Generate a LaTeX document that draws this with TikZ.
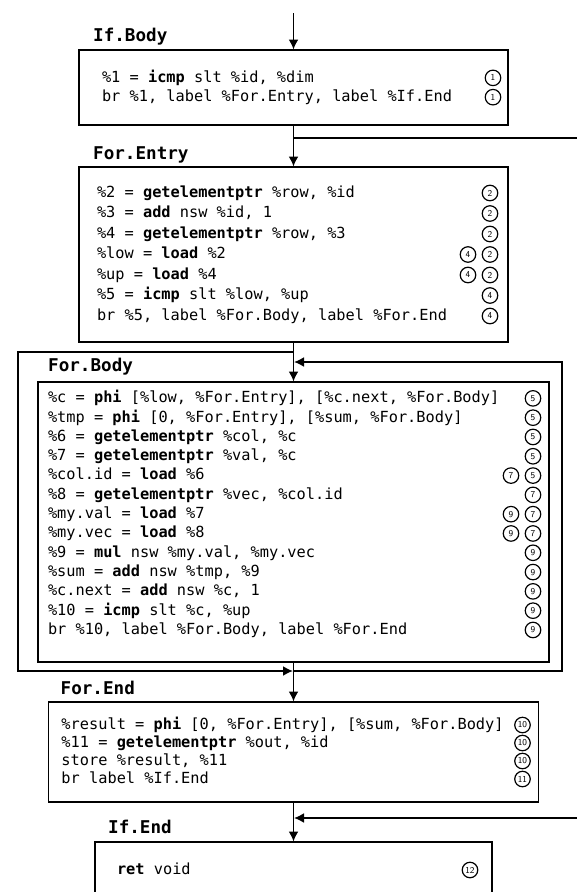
\documentclass[tikz,border=0pt]{standalone}
\usepackage{fontspec}
\setmonofont{DejaVu Sans Mono}
\usepackage{pict2e}
\usetikzlibrary{positioning,arrows.meta,calc}

\newlength{\padL}
\newlength{\padR}
\newcommand{\codefont}{\ttfamily\fontsize{15.3}{19.3}\selectfont}
\newcommand{\lblfont}{\ttfamily\bfseries\fontsize{17.6}{20}\selectfont}
\newcommand{\op}[1]{\textbf{#1}}
\newcommand{\codeline}[2]{\hbox to \linewidth{\spaceskip=0.602em\relax\hskip\padL #1\hfill #2\hskip\padR}}
\newcommand{\cnum}[1]{\raisebox{-3.6pt}{\setlength{\unitlength}{1pt}\linethickness{1.2pt}%
  \begin{picture}(16,16)\put(8,8){\circle{15.5}}%
  \put(8,8){\makebox(0,0){\sffamily\fontsize{9}{9}\selectfont #1}}\end{picture}}}
\newcommand{\cpair}[2]{\cnum{#1}\hspace{6pt}\cnum{#2}}

\begin{document}
\begin{tikzpicture}[
    box/.style={draw, line width=1.8pt, inner sep=0pt, outer sep=0pt, font=\codefont},
    pads/.style 2 args={execute at begin node={\setlength{\padL}{#1}\setlength{\padR}{#2}}},
    lbl/.style={font=\lblfont, inner sep=0pt, anchor=base west},
    wire/.style={line width=1.8pt},
    arr/.style={wire, -{Latex[length=10pt,width=10pt]}, shorten >=0.5pt}
]
    \useasboundingbox (0,0) rectangle (577pt,-892pt);
    \clip (0,0) rectangle (577pt,-892pt);

    % basic blocks
    \node[box, pads={23pt}{7pt}, text width=429pt, minimum height=75pt] (ifbody) at (293.5pt,-87.5pt) {
        \codeline{\%1 = \op{icmp} slt \%id, \%dim}{\cnum{1}}
        \codeline{br \%1, label \%For.Entry, label \%If.End}{\cnum{1}}
    };

    \node[box, pads={18pt}{10pt}, text width=429pt, minimum height=175pt, below=42pt of ifbody,
          font=\ttfamily\fontsize{15.3}{20.5}\selectfont] (forentry) {
        \codeline{\%2 = \op{getelementptr} \%row, \%id}{\cnum{2}}
        \codeline{\%3 = \op{add} nsw \%id, 1}{\cnum{2}}
        \codeline{\%4 = \op{getelementptr} \%row, \%3}{\cnum{2}}
        \codeline{\%low = \op{load} \%2}{\cpair{4}{2}}
        \codeline{\%up = \op{load} \%4}{\cpair{4}{2}}
        \codeline{\%5 = \op{icmp} slt \%low, \%up}{\cnum{4}}
        \codeline{br \%5, label \%For.Body, label \%For.End}{\cnum{4}}
    };

    \node[box, pads={10pt}{8pt}, text width=511pt, minimum height=280pt, below=40pt of forentry] (forbody) {
        \codeline{\%c = \op{phi} [\%low, \%For.Entry], [\%c.next, \%For.Body]}{\cnum{5}}
        \codeline{\%tmp = \op{phi} [0, \%For.Entry], [\%sum, \%For.Body]}{\cnum{5}}
        \codeline{\%6 = \op{getelementptr} \%col, \%c}{\cnum{5}}
        \codeline{\%7 = \op{getelementptr} \%val, \%c}{\cnum{5}}
        \codeline{\%col.id = \op{load} \%6}{\cpair{7}{5}}
        \codeline{\%8 = \op{getelementptr} \%vec, \%col.id}{\cnum{7}}
        \codeline{\%my.val = \op{load} \%7}{\cpair{9}{7}}
        \codeline{\%my.vec = \op{load} \%8}{\cpair{9}{7}}
        \codeline{\%9 = \op{mul} nsw \%my.val, \%my.vec}{\cnum{9}}
        \codeline{\%sum = \op{add} nsw \%tmp, \%9}{\cnum{9}}
        \codeline{\%c.next = \op{add} nsw \%c, 1}{\cnum{9}}
        \codeline{\%10 = \op{icmp} slt \%c, \%up}{\cnum{9}}
        \codeline{br \%10, label \%For.Body, label \%For.End}{\cnum{9}}
        \kern14pt
    };

    \node[box, pads={13pt}{8pt}, text width=490pt, minimum height=100pt, below=40pt of forbody,
          font=\ttfamily\fontsize{15.3}{18}\selectfont] (forend) {
        \codeline{\%result = \op{phi} [0, \%For.Entry], [\%sum, \%For.Body]}{\cnum{10}}
        \codeline{\%11 = \op{getelementptr} \%out, \%id}{\cnum{10}}
        \codeline{store \%result, \%11}{\cnum{10}}
        \codeline{br label \%If.End}{\cnum{11}}
    };

    \node[box, pads={22pt}{14pt}, text width=397pt, minimum height=56pt, below=40pt of forend] (ifend) {
        \codeline{\op{ret} void}{\cnum{12}}
    };

    % block names
    \node[lbl] (ifbodylbl) at ([xshift=14pt,yshift=9pt]ifbody.north west) {If.Body};
    \node[lbl] (forentrylbl) at ([xshift=14pt,yshift=8pt]forentry.north west) {For.Entry};
    \node[lbl] (forbodylbl) at ([xshift=10pt,yshift=11pt]forbody.north west) {For.Body};
    \node[lbl] (forendlbl) at ([xshift=12pt,yshift=8pt]forend.north west) {For.End};
    \node[lbl] (ifendlbl) at ([xshift=13pt,yshift=9pt]ifend.north west) {If.End};

    % branch points
    \coordinate (start) at ([yshift=37pt]ifbody.north);
    \coordinate (skip) at ([yshift=-13pt]ifbody.south);
    \coordinate (ifendin) at ([yshift=24pt]ifend.north);
    \coordinate (bypass) at ([yshift=-10pt]forentry.south);
    \coordinate (loopin) at ([yshift=20pt]forbody.north);
    \coordinate (merge) at ([yshift=-9pt]forbody.south);
    \coordinate (farleft) at (18pt,0);
    \coordinate (loopx) at (562pt,0);
    \coordinate (farright) at (600pt,0);

    % control flow
    \draw[arr] (start) -- (ifbody);
    \draw[arr] (ifbody) -- (forentry);
    \draw[arr] (skip) -- (skip -| farright) -- (farright |- ifendin) -- (ifendin);
    \draw[arr] (forentry) -- (forbody);
    \draw[arr] (bypass) -- (bypass -| farleft) -- (farleft |- merge) -- (merge);
    \draw[arr] (forbody) -- (forend);
    \draw[arr] (merge) -- (merge -| loopx) -- (loopx |- loopin) -- (loopin);
    \draw[arr] (forend) -- (ifend);
\end{tikzpicture}
\end{document}
